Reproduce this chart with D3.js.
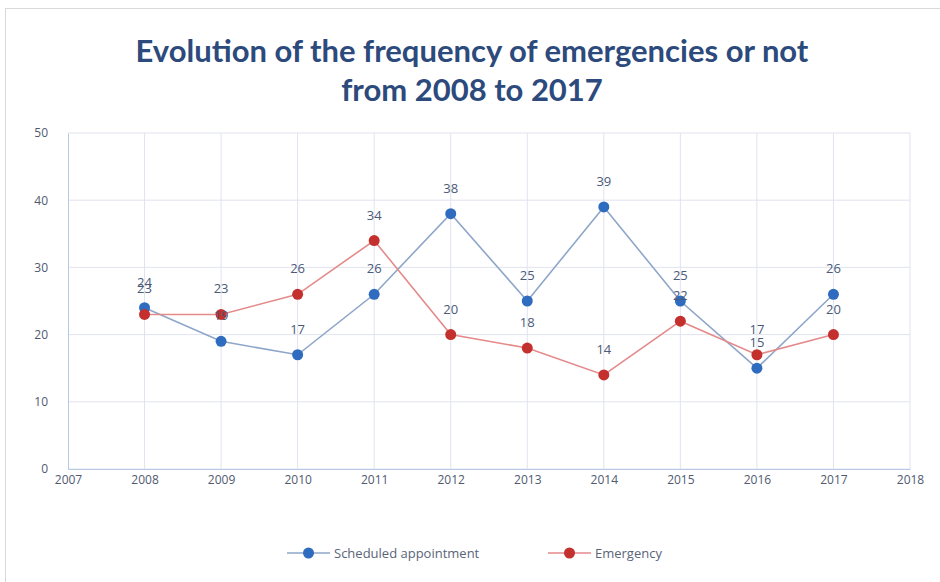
<!DOCTYPE html>
<html>
<head>
<meta charset="utf-8">
<script src="https://cdn.jsdelivr.net/npm/d3@7"></script>
<style>
  body { margin: 0; background: #fff; }
  svg { display: block; }
</style>
</head>
<body>
<script>
const years = [2008, 2009, 2010, 2011, 2012, 2013, 2014, 2015, 2016, 2017];
const scheduled = [24, 19, 17, 26, 38, 25, 39, 25, 15, 26];
const emergency = [23, 23, 26, 34, 20, 18, 14, 22, 17, 20];
const xTicks = [2007, 2008, 2009, 2010, 2011, 2012, 2013, 2014, 2015, 2016, 2017, 2018];
const yTicks = [0, 10, 20, 30, 40, 50];
const seriesNames = ["Scheduled appointment", "Emergency"];

const width = 940, height = 582;
const margin = {left: 68, right: 30, top: 133, bottom: 113};

const svg = d3.select("body").append("svg")
    .attr("width", width)
    .attr("height", height);

// outer frame
svg.append("rect")
    .attr("x", 5.5).attr("y", 8.5)
    .attr("width", width - 4).attr("height", height - 4)
    .attr("fill", "#fff")
    .attr("stroke", "#d9d9d9");

const x = d3.scaleLinear().domain([2007, 2018]).range([margin.left, width - margin.right]);
const y = d3.scaleLinear().domain([0, 50]).range([height - margin.bottom, margin.top]);

// title
const title = svg.append("text")
    .attr("text-anchor", "middle")
    .attr("font-family", "Lato, 'Open Sans', sans-serif")
    .attr("font-weight", "bold")
    .attr("font-size", 31)
    .attr("fill", "#2c4a7c");
title.append("tspan").attr("x", 472).attr("y", 62).text("Evolution of the frequency of emergencies or not");
title.append("tspan").attr("x", 472).attr("y", 101).text("from 2008 to 2017");

// grid
svg.append("g")
    .selectAll("line")
    .data(yTicks)
    .join("line")
    .attr("x1", x(2007)).attr("x2", x(2018))
    .attr("y1", d => y(d)).attr("y2", d => y(d))
    .attr("stroke", "#e1e3ef");

svg.append("g")
    .selectAll("line")
    .data(xTicks.slice(1))
    .join("line")
    .attr("x1", d => x(d)).attr("x2", d => x(d))
    .attr("y1", y(0)).attr("y2", y(50))
    .attr("stroke", "#e1e3ef");

// axes
const xAxis = svg.append("g")
    .attr("transform", `translate(0,${y(0)})`)
    .call(d3.axisBottom(x).tickValues(xTicks).tickFormat(d3.format("d")).tickSize(0).tickPadding(6));
const yAxis = svg.append("g")
    .attr("transform", `translate(${x(2007)},0)`)
    .call(d3.axisLeft(y).tickValues(yTicks).tickSize(0).tickPadding(20));

[xAxis, yAxis].forEach(g => {
  g.select(".domain").attr("stroke", "#b8c9e6");
  g.selectAll("text")
      .attr("font-family", "'Open Sans', sans-serif")
      .attr("font-size", 12)
      .attr("fill", "#4f5a70");
});

const series = [
  {name: seriesNames[0], values: scheduled, line: "#8ea6c9", dot: "#2f6cbf"},
  {name: seriesNames[1], values: emergency, line: "#e48a8a", dot: "#c3302d"}
];

const line = d3.line().x((d, i) => x(years[i])).y(d => y(d));

series.forEach(s => {
  svg.append("path")
      .datum(s.values)
      .attr("fill", "none")
      .attr("stroke", s.line)
      .attr("stroke-width", 1.6)
      .attr("d", line);
});

series.forEach(s => {
  svg.append("g")
      .selectAll("circle")
      .data(s.values)
      .join("circle")
      .attr("cx", (d, i) => x(years[i]))
      .attr("cy", d => y(d))
      .attr("r", 5.5)
      .attr("fill", s.dot);
});

series.forEach(s => {
  svg.append("g")
      .selectAll("text")
      .data(s.values)
      .join("text")
      .attr("x", (d, i) => x(years[i]))
      .attr("y", d => y(d) - 21)
      .attr("text-anchor", "middle")
      .attr("font-family", "'Open Sans', sans-serif")
      .attr("font-size", 13)
      .attr("fill", "#4a5a78")
      .text(d => d);
});

// legend
const legend = svg.append("g").attr("transform", "translate(0,553)");
const legendItems = [
  {s: series[0], x0: 287},
  {s: series[1], x0: 548}
];
legendItems.forEach(({s, x0}) => {
  legend.append("line")
      .attr("x1", x0).attr("x2", x0 + 43)
      .attr("stroke", s.line).attr("stroke-width", 1.6);
  legend.append("circle")
      .attr("cx", x0 + 21.5).attr("r", 5.5).attr("fill", s.dot);
  legend.append("text")
      .attr("x", x0 + 47).attr("y", 4.5)
      .attr("font-family", "'Open Sans', sans-serif")
      .attr("font-size", 13)
      .attr("fill", "#5a6478")
      .text(s.name);
});
</script>
</body>
</html>
